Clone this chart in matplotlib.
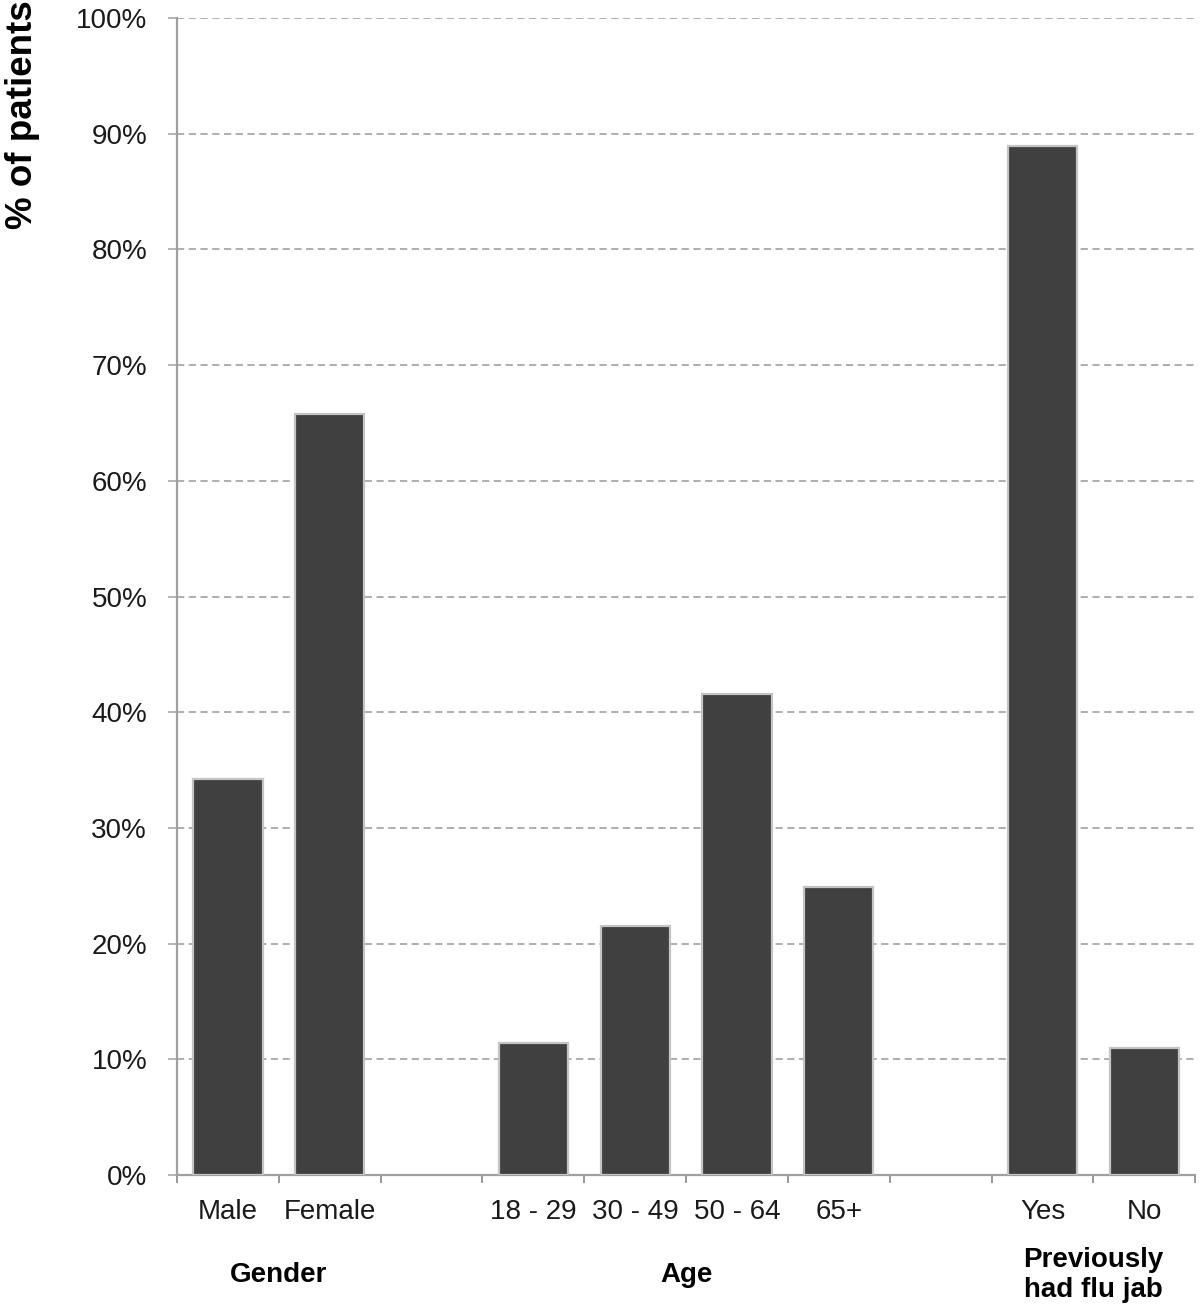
"""
Patients by gender, age and previous flu jab - bar chart
"""
import matplotlib
matplotlib.use("Agg")
import matplotlib.pyplot as plt
from matplotlib.ticker import FuncFormatter, MultipleLocator

plt.rcParams['font.family'] = ['Liberation Sans', 'DejaVu Sans']

# data (empty slots separate the groups)
categories = ["Male", "Female", "", "18 - 29", "30 - 49", "50 - 64", "65+", "", "Yes", "No"]
values = [34.2, 65.8, 0, 11.4, 21.5, 41.6, 24.9, 0, 88.9, 11.0]
groups = ["Gender", "Age", "Previously\nhad flu jab"]
group_centers = [0.5, 4.5, 8.5]   # between the bars of each group
y_ticks = list(range(0, 101, 10))

fig = plt.figure(figsize=(12, 13.12), dpi=100)
ax = fig.add_axes([0.1475, 0.1044, 0.8485, 0.8819])

x = list(range(len(categories)))
shown = [i for i in x if categories[i] != ""]
ax.bar([x[i] for i in shown], [values[i] for i in shown], width=0.68,
       color="#404040", edgecolor="#c4c4c4", linewidth=1.6, zorder=3)

ax.set_xlim(-0.5, len(categories) - 0.5)
ax.set_ylim(0, 100)
ax.set_yticks(y_ticks)
ax.yaxis.set_major_formatter(FuncFormatter(lambda v, p: f"{int(v)}%"))
ax.grid(axis="y", color="#a8a8a8", linestyle=(0, (4, 2.5)), linewidth=1.3, zorder=0)

# category labels on major ticks, tick marks on slot boundaries
ax.set_xticks(x)
ax.set_xticklabels(categories)
ax.xaxis.set_minor_locator(MultipleLocator(1, offset=0.5))
ax.tick_params(axis="x", which="major", length=0, pad=17, labelsize=20, labelcolor="#1a1a1a")
ax.tick_params(axis="x", which="minor", length=6, width=1.3, color="#909090")
ax.tick_params(axis="y", length=6.5, width=1.3, color="#b0b0b0", pad=15, labelsize=20,
               labelcolor="#1a1a1a")

for side in ["top", "right"]:
    ax.spines[side].set_visible(False)
for side in ["left", "bottom"]:
    ax.spines[side].set_color("#a0a0a0")
    ax.spines[side].set_linewidth(1.6)

# group labels
for g, c in zip(groups, group_centers):
    ax.text(c, -8.6, g, transform=ax.transData, ha="center", va="center",
            fontsize=20, fontweight="bold", linespacing=1.2, clip_on=False)

fig.text(0.019, 1.0, "% of patients", rotation=90, ha="center", va="top",
         fontsize=26.5, fontweight="bold")

fig.savefig("out.png", dpi=100)
